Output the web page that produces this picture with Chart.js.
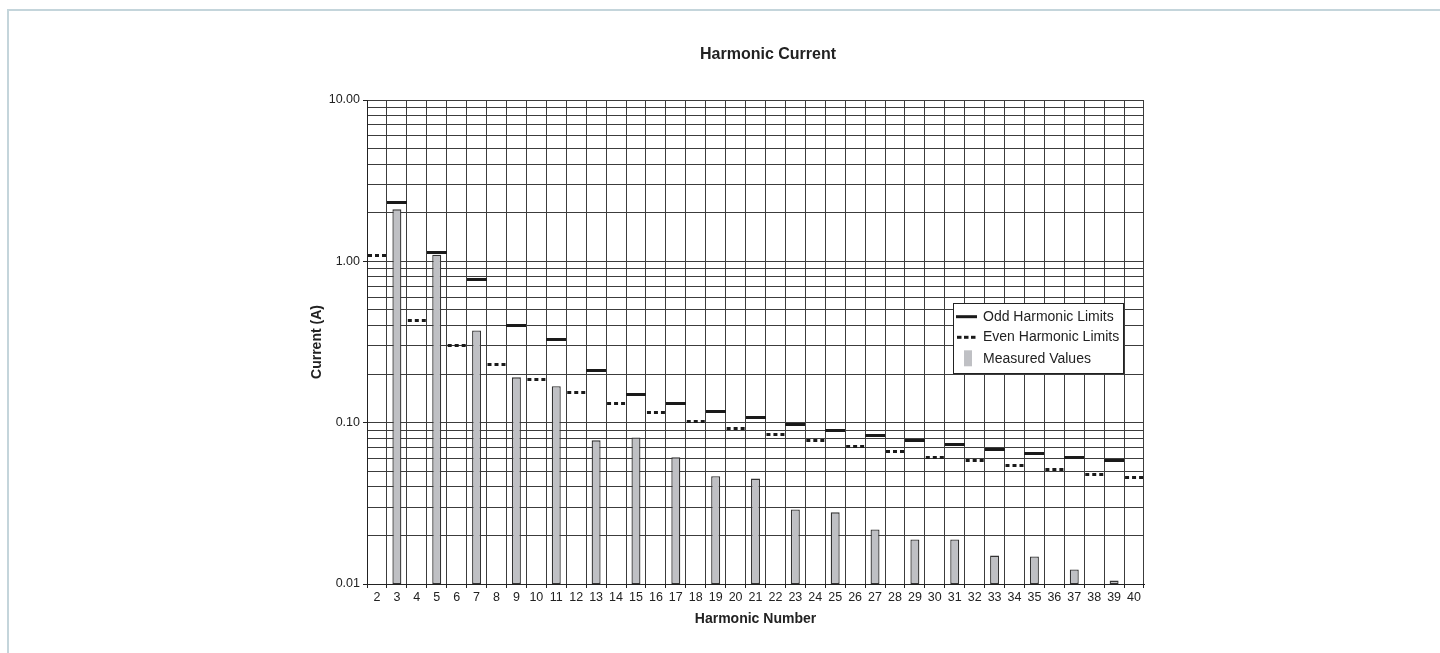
<!DOCTYPE html>
<html><head><meta charset="utf-8">
<script src="https://cdn.jsdelivr.net/npm/chart.js@4/dist/chart.umd.min.js"></script>
<style>
html,body{margin:0;padding:0;background:#fff;overflow:hidden}
#frame{position:absolute;left:7px;top:9px;width:1500px;height:700px;border-left:2px solid #c4d5db;border-top:2px solid #c4d5db}
#wrap{position:absolute;left:0;top:0;width:1440px;height:653px}
</style></head><body>
<div id="frame"></div>
<div id="wrap"><canvas id="c" width="1440" height="653"></canvas></div>
<script>
// ---- data ----
const harmonicNumbers = ['2','3','4','5','6','7','8','9','10','11','12','13','14','15','16','17','18','19','20','21','22','23','24','25','26','27','28','29','30','31','32','33','34','35','36','37','38','39','40'];
//                      2     3     4     5     6     7     8     9     10    11    12    13     14    15    16    17    18    19     20    21    22    23    24    25     26    27     28    29     30    31     32    33    34    35     36    37     38    39     40
const measuredValues = [null, 2.10, null, 1.10, null, 0.373,null, 0.191,null, 0.168,null, 0.0777,null, 0.081,null, 0.061,null, 0.0465,null, 0.045,null, 0.029,null, 0.0278,null, 0.0218,null, 0.0189,null, 0.0189,null, 0.015,null, 0.0148,null, 0.0123,null, 0.0105,null];
const oddLimits      = [null, 2.30, null, 1.14, null, 0.77, null, 0.40, null, 0.33, null, 0.21,  null, 0.15, null, 0.132,null, 0.118, null, 0.107,null, 0.098,null, 0.090, null, 0.083, null, 0.078, null, 0.073, null, 0.068,null, 0.064, null, 0.061, null, 0.058, null];
const evenLimits     = [1.08, null, 0.43, null, 0.30, null, 0.23, null, 0.184,null, 0.153,null,  0.131,null, 0.115,null, 0.102,null,  0.092,null, 0.084,null, 0.077,null,  0.071,null,  0.066,null,  0.061,null,  0.058,null, 0.054,null,  0.051,null,  0.048,null,  0.046];
const yTickValues = [0.01,0.02,0.03,0.04,0.05,0.06,0.07,0.08,0.09,0.1,0.2,0.3,0.4,0.5,0.6,0.7,0.8,0.9,1,2,3,4,5,6,7,8,9,10];
const yMajorTicks = [0.01, 0.1, 1, 10];
const yMajorLabels = ['0.01', '0.10', '1.00', '10.00'];
const seriesNames = ['Odd Harmonic Limits', 'Even Harmonic Limits', 'Measured Values'];

// ---- styles ----
const FONT = "'Liberation Sans', Arial, Helvetica, sans-serif";
const INK = '#222222';
const GRID = '#3c3c3c';
const BAR_FILL = '#bfc0c4';
const BAR_EDGE = '#333333';

function limitMark(dashed) {
  const c = document.createElement('canvas');
  c.width = 20; c.height = 3;
  const g = c.getContext('2d');
  g.fillStyle = '#1a1a1a';
  if (!dashed) g.fillRect(0, 0, 20, 3);
  else { g.fillRect(1, 0, 4, 3); g.fillRect(8, 0, 4, 3); g.fillRect(15, 0, 4, 3); }
  return c;
}
const oddMark = limitMark(false);
const evenMark = limitMark(true);

const titleShift = {
  id: 'titleShift',
  afterLayout(chart) {
    const t = chart.titleBlock;
    if (!t) return;
    const a = chart.chartArea;
    const target = (a.left + a.right) / 2 + 12.5;
    const d = target - (t.left + t.right) / 2;
    t.left += d; t.right += d;
  }
};

const boxLegend = {
  id: 'boxLegend',
  afterDraw(chart) {
    const ctx = chart.ctx;
    const a = chart.chartArea;
    const x0 = a.left + 586, y0 = a.top + 203, w = 170, h = 70;
    ctx.save();
    ctx.fillStyle = '#ffffff';
    ctx.fillRect(x0, y0, w, h);
    ctx.strokeStyle = INK;
    ctx.lineWidth = 1;
    ctx.strokeRect(x0 + 0.5, y0 + 0.5, w, h);
    const rows = [y0 + 13.7, y0 + 34.3, y0 + 56.3];
    ctx.fillStyle = '#1a1a1a';
    ctx.fillRect(x0 + 3, rows[0] - 1.5, 21, 3);
    ctx.fillRect(x0 + 4, rows[1] - 1.5, 4.5, 3);
    ctx.fillRect(x0 + 11, rows[1] - 1.5, 4.5, 3);
    ctx.fillRect(x0 + 18, rows[1] - 1.5, 4.5, 3);
    ctx.fillStyle = BAR_FILL;
    ctx.fillRect(x0 + 11, rows[2] - 9, 8, 16);
    ctx.fillStyle = INK;
    ctx.font = '14px ' + FONT;
    ctx.textBaseline = 'middle';
    ctx.textAlign = 'left';
    const labels = chart.data.datasets.map(d => d.label);
    labels.forEach((t, i) => ctx.fillText(t, x0 + 30, rows[i]));
    ctx.restore();
  }
};

new Chart(document.getElementById('c'), {
  data: {
    labels: harmonicNumbers,
    datasets: [
      { type: 'line', label: seriesNames[0], data: oddLimits, showLine: false, pointStyle: oddMark, pointRadius: 3, pointHoverRadius: 3, order: 0 },
      { type: 'line', label: seriesNames[1], data: evenLimits, showLine: false, pointStyle: evenMark, pointRadius: 3, pointHoverRadius: 3, order: 1 },
      { type: 'bar', label: seriesNames[2], data: measuredValues, backgroundColor: BAR_FILL, borderColor: BAR_EDGE, borderWidth: 1.3,
        borderSkipped: false, barPercentage: 0.45, categoryPercentage: 1, order: 2 }
    ]
  },
  options: {
    responsive: false,
    animation: false,
    devicePixelRatio: 1,
    layout: { padding: { left: 309, right: 296, top: 0, bottom: 25.2 } },
    plugins: {
      legend: { display: false },
      tooltip: { enabled: false },
      title: { display: true, text: 'Harmonic Current', color: INK,
               font: { family: FONT, size: 16, weight: 'bold' }, padding: { top: 44.5, bottom: 36.3 } }
    },
    scales: {
      x: {
        type: 'category',
        offset: true,
        grid: { offset: true, color: GRID, lineWidth: 1, tickLength: 4, tickColor: INK },
        border: { color: INK, width: 1 },
        ticks: { color: INK, font: { family: FONT, size: 12.5 }, padding: 2, maxRotation: 0, autoSkip: false },
        title: { display: true, text: 'Harmonic Number', color: INK, font: { family: FONT, size: 14, weight: 'bold' }, padding: { top: 4, bottom: 0 } }
      },
      y: {
        type: 'logarithmic',
        min: 0.01, max: 10,
        afterBuildTicks: (scale) => { scale.ticks = yTickValues.map(v => ({ value: v, major: yMajorTicks.includes(v) })); },
        afterFit: (scale) => { scale.width = 58; },
        grid: { color: GRID, lineWidth: 1, tickLength: 4,
                tickColor: (c) => (c.tick && yMajorTicks.includes(c.tick.value)) ? INK : 'rgba(0,0,0,0)' },
        border: { color: INK, width: 1 },
        ticks: { color: INK, font: { family: FONT, size: 12.5 }, padding: 3, autoSkip: false,
                 callback: (v) => { const i = yMajorTicks.indexOf(v); return i >= 0 ? yMajorLabels[i] : ''; } },
        title: { display: true, text: 'Current (A)', color: INK, font: { family: FONT, size: 14, weight: 'bold' }, padding: { top: 0, bottom: 0 } }
      }
    }
  },
  plugins: [titleShift, boxLegend]
});
</script>
</body></html>
